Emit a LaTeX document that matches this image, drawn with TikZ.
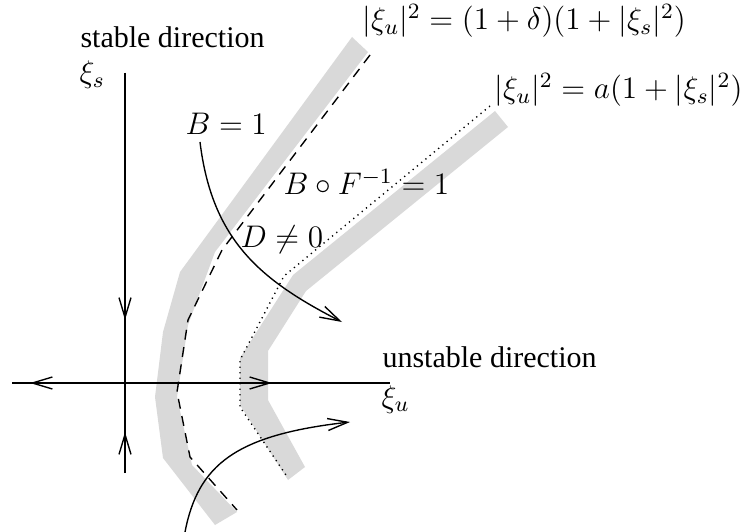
\RequirePackage{fix-cm}
\documentclass[tikz,border=0pt]{standalone}
\usepackage[no-math]{fontspec}
\setmainfont{Liberation Serif}
\usetikzlibrary{arrows.meta}
\definecolor{bandgray}{RGB}{217,217,217}
\begin{document}
\begin{tikzpicture}[x=0.4pt,y=-0.4pt,
  thinline/.style={line width=0.55pt},
  tip/.style={-{Straight Barb[length=8pt,width=4.8pt]}},
  lbl/.style={anchor=base west, inner sep=0pt, font=\fontsize{12}{14}\selectfont},
  mlbl/.style={anchor=base west, inner sep=0pt, font=\fontsize{12.5}{15}\selectfont}]
\useasboundingbox (0,0) rectangle (745,532);
% shaded bands
\fill[bandgray] (352,37) -- (180,272) -- (163,332) -- (155,397) -- (163,458) -- (215,525)
  -- (237,512) -- (192,465) -- (177,397) -- (188,325) -- (215,252) -- (368,52) -- cycle;
\fill[bandgray] (495,111) -- (293,275) -- (240,358) -- (240,405) -- (288,480)
  -- (305,467) -- (268,400) -- (268,351) -- (306,291) -- (508,127) -- cycle;
% dashed and dotted curves
\draw[thinline, dash pattern=on 4pt off 3pt] (370,55) -- (222,250) -- (188,320) -- (177,392) -- (190,457) -- (237,510);
\draw[thinline, dash pattern=on 0.5pt off 1.7pt] (490,106) -- (284,276) -- (240,360) -- (240,407) -- (288,478);
% axes
\coordinate (hL) at (12,383);
\coordinate (hR) at (390,383);
\coordinate (vT) at (125,73);
\coordinate (vB) at (125,473);
\coordinate (O) at (125,383);
\coordinate (hLtip) at (30,383);
\coordinate (hRs) at (110,383);
\coordinate (hRtip) at (272,383);
\coordinate (vTtip) at (125,320);
\coordinate (vBtip) at (125,432);
\draw[thinline] (hL) -- (hR);
\draw[thinline] (vT) -- (vB);
\draw[thinline,tip] (O) -- (hLtip);
\draw[thinline,tip] (hRs) -- (hRtip);
\draw[thinline,tip] (vT) -- (vTtip);
\draw[thinline,tip] (vB) -- (vBtip);
% labels
\node[lbl] (stab) at (80,48) {stable direction};
\node[mlbl] (xis) at (79,83) {$\xi_s$};
\node[lbl] (unstab) at (382,367) {unstable direction};
\node[mlbl] (xiu) at (381,407) {$\xi_u$};
\node[mlbl] (B1) at (185,135) {$B=1$};
\node[mlbl] (BF) at (283,195) {$B\circ F^{-1}=1$};
\node[mlbl] (D0) at (240,248) {$D\neq 0$};
\node[mlbl] (eq1) at (362,30) {$|\xi_u|^2=(1+\delta)(1+|\xi_s|^2)$};
\node[mlbl] (eq2) at (494,99) {$|\xi_u|^2=a(1+|\xi_s|^2)$};
% flow curves
\coordinate (c1s) at (200,142);
\coordinate (c1e) at (342,322);
\coordinate (c2s) at (185,532);
\coordinate (c2e) at (350,422);
\draw[thinline,tip] (c1s) .. controls (212,240) and (260,280) .. (c1e);
\draw[thinline,tip] (c2s) .. controls (198,465) and (235,435) .. (c2e);
\end{tikzpicture}
\end{document}
